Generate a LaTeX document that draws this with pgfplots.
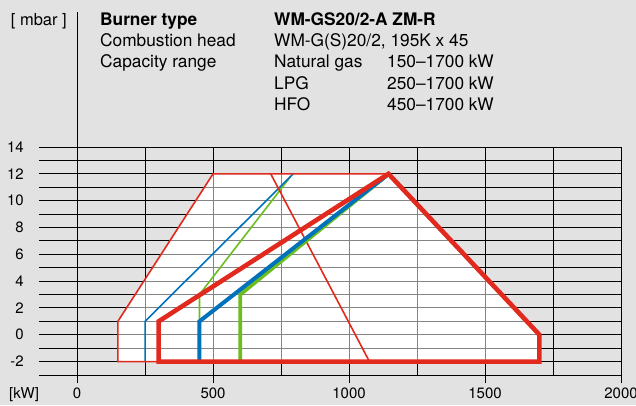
\documentclass[border=0pt]{standalone}
\usepackage{fontspec}
\setmainfont{TeX Gyre Heros}
\usepackage{pgfplots}
\pgfplotsset{compat=1.18}

\definecolor{bg}{HTML}{E2E2E2}
\definecolor{wred}{HTML}{E1291E}
\definecolor{wblue}{HTML}{0072BB}
\definecolor{wgreen}{HTML}{6CBE1E}
\definecolor{gridin}{HTML}{858585}

\begin{document}
\begin{tikzpicture}[x=1pt,y=1pt]
\fill[bg] (-39,-30) rectangle (597,375);
\useasboundingbox (-39,-30) rectangle (597,375);

% header
\begin{scope}[every node/.style={inner sep=0pt, font=\fontsize{17.3}{20}\selectfont}]
\node[anchor=base east, font=\fontsize{16.5}{20}\selectfont] at (28,349) {[ mbar ]};
\node[anchor=base west] at (61,349) {\bfseries Burner type};
\node[anchor=base west] at (61,328) {Combustion head};
\node[anchor=base west] at (61,307) {Capacity range};
\node[anchor=base west] at (235,349) {\bfseries WM-GS20/2-A ZM-R};
\node[anchor=base west] at (235,328) {WM-G(S)20/2, 195K x 45};
\node[anchor=base west] at (235,307) {Natural gas};
\node[anchor=base west] at (235,286) {LPG};
\node[anchor=base west] at (235,265) {HFO};
\node[anchor=base west] at (348,307) {150–1700 kW};
\node[anchor=base west] at (348,286) {250–1700 kW};
\node[anchor=base west] at (348,265) {450–1700 kW};
\end{scope}
\node[anchor=base west, inner sep=0pt, font=\fontsize{15}{18}\selectfont] at (-30,-23) {[kW]};

\begin{axis}[
    at={(0,0)}, anchor=south west,
    scale only axis,
    width=582pt, height=228pt,
    xmin=-140, xmax=2000,
    ymin=-3, ymax=14,
    clip=false,
    axis line style={draw=none},
    xtick={0,500,...,2000},
    minor xtick={250,750,1250,1750},
    ytick={-2,0,...,14},
    minor ytick={-3,-1,...,13},
    grid=both,
    major grid style={black, line width=0.9pt},
    minor grid style={black, line width=0.9pt},
    tick align=outside,
    xtick pos=bottom, ytick pos=left,
    major tick length=8pt, minor tick length=0pt,
    xtick style={black, line width=1pt},
    ytick style={draw=none},
    tick label style={font=\fontsize{15}{18}\selectfont},
    /pgf/number format/assume math mode=true,
    /pgf/number format/1000 sep={},
    xticklabel style={anchor=base, inner sep=0pt, yshift=-15pt},
    yticklabel style={anchor=east, inner sep=0pt, xshift=-7pt},
]
% white field
\addplot[fill=white, draw=none] coordinates {
    (150,-2) (150,1) (500,12) (1145,12) (1700,0) (1700,-2)} -- cycle;

% grid seen through the white field
\begin{scope}
\clip (150,-2) -- (150,1) -- (500,12) -- (1145,12) -- (1700,0) -- (1700,-2) -- cycle;
\pgfplotsinvokeforeach{0,250,...,2000}{\draw[gridin, line width=0.9pt] (#1,-3) -- (#1,14);}
\pgfplotsinvokeforeach{-3,...,14}{\draw[gridin, line width=0.9pt] (-140,#1) -- (2000,#1);}
\end{scope}

% y axis line at 0
\draw[black, line width=1.1pt] (0,-3) -- (0,24.07);

% thin lines
\addplot[wgreen, line width=1.6pt] coordinates {(450,1) (450,3) (785,11.8)};
\addplot[wblue, line width=1.6pt] coordinates {(250,-2) (250,1) (795,12)};
\addplot[wred, line width=1.6pt] coordinates {(300,-2) (150,-2) (150,1) (500,12) (1145,12)};
\addplot[wred, line width=1.6pt] coordinates {(712,12) (1075,-2)};

% thick lines
\addplot[wgreen, line width=3.8pt] coordinates {(600,-2) (600,3) (1140,11.9)};
\addplot[wblue, line width=4pt] coordinates {(450,-2) (450,1) (1140,11.9)};
\addplot[wred, line width=4.6pt, line join=miter] coordinates {
    (1145,12) (300,1) (300,-2) (1700,-2) (1700,0)} -- cycle;
\end{axis}
\end{tikzpicture}
\end{document}
